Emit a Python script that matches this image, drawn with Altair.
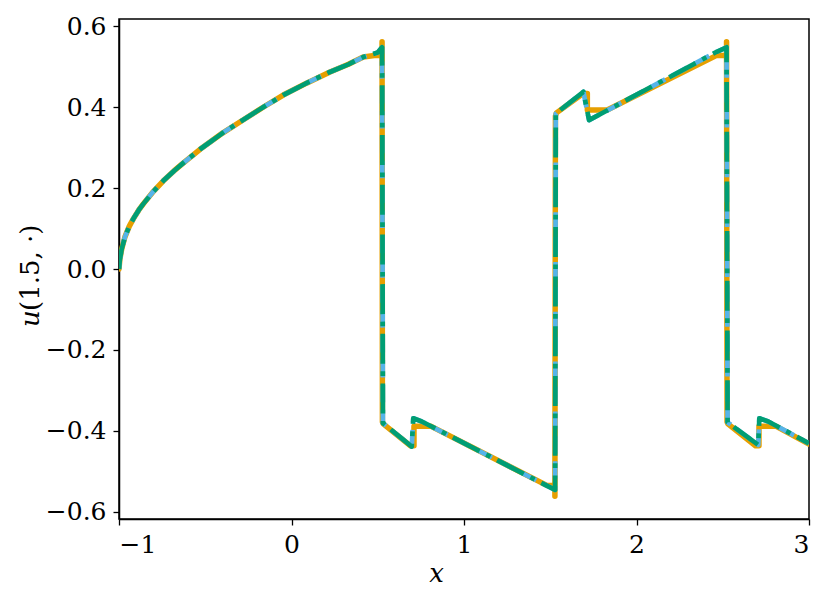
import altair as alt
import pandas as pd

# ---- data ----
green_x = [-1.0, -0.995, -0.984, -0.965, -0.94, -0.917, -0.885, -0.859, -0.80, -0.743, -0.68, -0.63,
           -0.53, -0.40, -0.279, -0.16, -0.048, 0.09, 0.223, 0.33, 0.416, 0.50, 0.525, 0.53, 0.697,
           0.706, 0.755, 1.528, 1.532, 1.692, 1.725, 2.465, 2.522, 2.528, 2.706, 2.712, 2.764, 3.0]
green_u = [0.0, 0.024, 0.050, 0.080, 0.106, 0.124, 0.146, 0.161, 0.192, 0.218, 0.243, 0.261,
           0.296, 0.336, 0.369, 0.401, 0.430, 0.460, 0.487, 0.506, 0.524, 0.535, 0.548, -0.381, -0.439,
           -0.369, -0.377, -0.546, 0.384, 0.438, 0.368, 0.537, 0.548, -0.379, -0.435, -0.369, -0.377, -0.431]

blue_x = green_x
blue_u = green_u

orange_x = [-1.0, -0.995, -0.984, -0.965, -0.94, -0.917, -0.885, -0.859, -0.80, -0.743, -0.68, -0.63,
            -0.53, -0.40, -0.279, -0.16, -0.048, 0.09, 0.223, 0.33, 0.416, 0.48, 0.525, 0.525, 0.527,
            0.532, 0.69, 0.71, 0.71, 0.81, 1.48, 1.527, 1.527, 1.530, 1.536, 1.69, 1.715, 1.715, 1.83,
            2.465, 2.522, 2.522, 2.525, 2.53, 2.69, 2.71, 2.71, 2.81, 3.0]
orange_u = [0.0, 0.024, 0.050, 0.080, 0.106, 0.124, 0.146, 0.161, 0.192, 0.218, 0.243, 0.261,
            0.296, 0.336, 0.369, 0.401, 0.430, 0.460, 0.487, 0.506, 0.524, 0.528, 0.528, 0.562, -0.378,
            -0.383, -0.437, -0.437, -0.389, -0.389, -0.535, -0.535, -0.562, 0.378, 0.386, 0.434, 0.434,
            0.393, 0.393, 0.528, 0.528, 0.562, -0.378, -0.383, -0.437, -0.437, -0.389, -0.389, -0.433]

x_ticks = [-1, 0, 1, 2, 3]
y_ticks = [-0.6, -0.4, -0.2, 0.0, 0.2, 0.4, 0.6]

FONT = "DejaVu Serif"


def frame(xs, us):
    return pd.DataFrame({"x": xs, "u": us, "i": list(range(len(xs)))})


xscale = alt.Scale(domain=[-1, 3], nice=False, zero=False)
yscale = alt.Scale(domain=[-0.618, 0.618], nice=False, zero=False)

xaxis = alt.Axis(values=x_ticks, format="d", title="x", titleFont=FONT, titleFontStyle="italic",
                 titleFontWeight="normal", titleFontSize=26, titleColor="black", titleX=317,
                 titleY=54, titleBaseline="middle")
yaxis = alt.Axis(values=y_ticks, format=".1f", title=None)


def line(df, color, width, dash=None, cap="butt"):
    kw = dict(color=color, strokeWidth=width, strokeJoin="round", strokeCap=cap, clip=True)
    if dash is not None:
        kw["strokeDash"] = dash
    return alt.Chart(df).mark_line(**kw).encode(
        x=alt.X("x:Q", scale=xscale, axis=xaxis),
        y=alt.Y("u:Q", scale=yscale, axis=yaxis),
        order="i:Q",
    )


orange = line(frame(orange_x, orange_u), "#E69F00", 5.5, cap="round")
blue = line(frame(blue_x, blue_u), "#56B4E9", 4.7, dash=[17.4, 7.5])
green = line(frame(green_x, green_u), "#009E73", 4.7, dash=[30, 7.5, 4.7, 7.5])

title_u = alt.Chart(pd.DataFrame({"t": ["u"]})).mark_text(
    angle=270, align="left", baseline="alphabetic", font=FONT, fontSize=26, fontStyle="italic",
    color="black"
).encode(x=alt.value(-80), y=alt.value(308), text="t:N")

title_rest = alt.Chart(pd.DataFrame({"t": ["(1.5, ·)"]})).mark_text(
    angle=270, align="left", baseline="alphabetic", font=FONT, fontSize=26, color="black"
).encode(x=alt.value(-80), y=alt.value(292), text="t:N")

chart = alt.layer(orange, blue, green, title_u, title_rest).properties(
    width=690, height=500,
    autosize=alt.AutoSizeParams(type="none"),
    padding={"left": 111, "top": 11, "right": 14, "bottom": 85},
).configure_view(
    stroke="black", strokeWidth=1.5
).configure_axis(
    grid=False, domainColor="black", domainWidth=1.5, tickColor="black", tickWidth=1.3,
    tickSize=6, labelFont=FONT, labelFontSize=25, labelColor="black", labelPadding=7,
)

chart.save("out.html", embed_options={"renderer": "svg", "actions": False})
